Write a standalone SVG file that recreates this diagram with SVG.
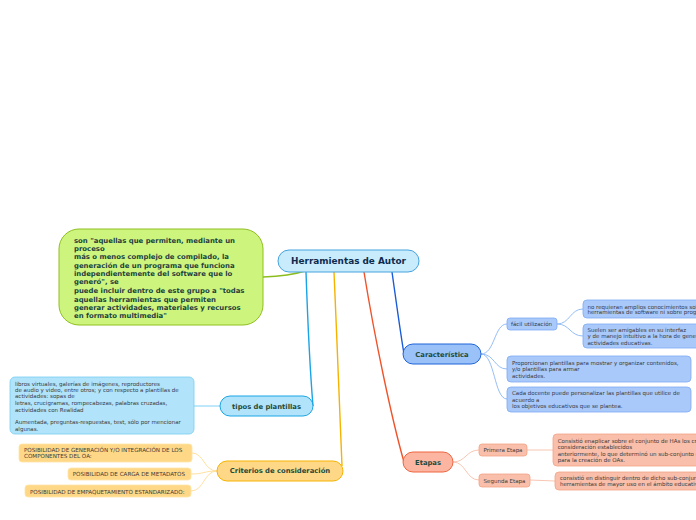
<svg xmlns="http://www.w3.org/2000/svg" width="696" height="520" viewBox="0 0 696 520">
<style>
text{font-family:"DejaVu Sans","Verdana",sans-serif;}
.lbl{font-weight:bold;fill:#1d4a3c;font-size:6.8px;text-anchor:middle;}
.body{fill:#3a3a3a;font-size:5.5px;}
.cap{fill:#3a3a3a;font-size:5.6px;}
.green{font-weight:bold;fill:#1d3f3f;font-size:6.9px;}
.conn{fill:none;}
</style>
<rect width="696" height="520" fill="#ffffff"/>
<g id="connectors" class="conn">
  <path d="M305,271 Q290,276 263,277" stroke="#8cbd1e" stroke-width="1.4"/>
  <path d="M306,272 C308,330 310,370 313,406" stroke="#1aa3e6" stroke-width="1.4"/>
  <path d="M334,272 C337,340 340,420 342,466" stroke="#f5b301" stroke-width="1.4"/>
  <path d="M364,272 C375,340 392,420 404,462" stroke="#f0532a" stroke-width="1.4"/>
  <path d="M392,272 C396,300 400,330 404,354" stroke="#1a5bd8" stroke-width="1.4"/>
  <g stroke="#95bdf6" stroke-width="1">
    <path d="M481,354 C495,354 494,324 507,324"/>
    <path d="M481,354 C495,354 494,369 507,369"/>
    <path d="M481,354 C495,354 494,399 507,399"/>
    <path d="M557,324 C570,324 570,309 583,309"/>
    <path d="M557,324 C570,324 570,336 583,336"/>
  </g>
  <g stroke="#f8c6b4" stroke-width="1">
    <path d="M453,462 C466,462 466,450 479,450"/>
    <path d="M453,462 C466,462 466,480 479,480"/>
    <path d="M527,450 L553,450"/>
    <path d="M530,480 L555,481"/>
  </g>
  <path d="M194,406 L220,406" stroke="#7fd0f5" stroke-width="1"/>
  <g stroke="#ffe0a0" stroke-width="1">
    <path d="M217,471 C204,471 204,453 192,453"/>
    <path d="M217,471 C204,471 204,474 191,474"/>
    <path d="M217,471 C204,471 204,491 191,491"/>
  </g>
</g>
<g id="central">
  <rect x="278" y="250" width="141" height="22" rx="11" fill="#c9ecfc" stroke="#45a3e0" stroke-width="1"/>
  <text x="348.5" y="264.2" text-anchor="middle" font-weight="bold" font-size="8.9" fill="#0d2b4f">Herramientas de Autor</text>
</g>
<g id="definicion">
  <rect x="59" y="229" width="204" height="96" rx="20" fill="#cdf57e" stroke="#8fbf1f" stroke-width="1"/>
  <text class="green" x="74" y="242.5">son "aquellas que permiten, mediante un</text>
  <text class="green" x="74" y="251">proceso</text>
  <text class="green" x="74" y="259">más o menos complejo de compilado, la</text>
  <text class="green" x="74" y="267.5">generación de un programa que funciona</text>
  <text class="green" x="74" y="276">independientemente del software que lo</text>
  <text class="green" x="74" y="284">generó",  se</text>
  <text class="green" x="74" y="293">puede incluir dentro de este grupo a "todas</text>
  <text class="green" x="74" y="301.5">aquellas herramientas que permiten</text>
  <text class="green" x="74" y="310">generar actividades, materiales y recursos</text>
  <text class="green" x="74" y="318">en formato multimedia"</text>
</g>
<g id="caracteristica">
  <rect x="403" y="344" width="78" height="20" rx="10" fill="#9ac2f8" stroke="#1f63d8" stroke-width="1"/>
  <text class="lbl" x="442" y="356.5">Característica</text>
</g>
<g id="facil">
  <rect x="507" y="318" width="50" height="12" rx="3" fill="#a9c9fb" stroke="#7ea9f2" stroke-width="0.8"/>
  <text class="body" x="511" y="326">fácil utilización</text>
</g>
<g id="no-requieran">
  <rect x="583" y="300" width="130" height="18" rx="4" fill="#a9c9fb" stroke="#7ea9f2" stroke-width="0.8"/>
  <text class="body" x="587.5" y="308.5">no requieran amplios conocimientos sobre</text>
  <text class="body" x="587.5" y="314.2">herramientas de software ni sobre programación</text>
</g>
<g id="suelen">
  <rect x="583" y="324" width="130" height="24" rx="4" fill="#a9c9fb" stroke="#7ea9f2" stroke-width="0.8"/>
  <text class="body" x="587.5" y="331.5">Suelen ser amigables en su interfaz</text>
  <text class="body" x="587.5" y="338">y de manejo intuitivo a la hora de generar</text>
  <text class="body" x="587.5" y="345">actividades educativas.</text>
</g>
<g id="proporcionan">
  <rect x="507" y="356" width="184" height="26" rx="4" fill="#a9c9fb" stroke="#7ea9f2" stroke-width="0.8"/>
  <text class="body" x="512" y="365">Proporcionan plantillas para mostrar y organizar contenidos,</text>
  <text class="body" x="512" y="371.2">y/o plantillas para armar</text>
  <text class="body" x="512" y="377.6">actividades.</text>
</g>
<g id="cada-docente">
  <rect x="507" y="387" width="184" height="25" rx="4" fill="#a9c9fb" stroke="#7ea9f2" stroke-width="0.8"/>
  <text class="body" x="512" y="395.2">Cada docente puede personalizar las plantillas que utilice de</text>
  <text class="body" x="512" y="401.8">acuerdo a</text>
  <text class="body" x="512" y="408">los objetivos educativos que se plantea.</text>
</g>
<g id="etapas">
  <rect x="403" y="452" width="50" height="20" rx="10" fill="#fbb5a0" stroke="#ee6540" stroke-width="1"/>
  <text class="lbl" x="428" y="465">Etapas</text>
</g>
<g id="primera-etapa">
  <rect x="479" y="444" width="48" height="12" rx="3" fill="#f9bfaa" stroke="#f4a385" stroke-width="0.8"/>
  <text class="body" x="503" y="452" text-anchor="middle">Primera Etapa</text>
</g>
<g id="segunda-etapa">
  <rect x="479" y="474" width="51" height="13" rx="3" fill="#f9bfaa" stroke="#f4a385" stroke-width="0.8"/>
  <text class="body" x="504.5" y="482.8" text-anchor="middle">Segunda Etapa</text>
</g>
<g id="consistio-1">
  <rect x="553" y="434" width="160" height="32" rx="4" fill="#f9bfaa" stroke="#f4a385" stroke-width="0.8"/>
  <text class="body" x="557.7" y="442.5">Consistió enaplicar sobre el conjunto de HAs los criterios de</text>
  <text class="body" x="557.7" y="448.5">consideración establecidos</text>
  <text class="body" x="557.7" y="455.8">anteriormente, lo que determinó un sub-conjunto de HAs</text>
  <text class="body" x="557.7" y="461.8">para la creación de OAs.</text>
</g>
<g id="consistio-2">
  <rect x="555" y="472" width="160" height="18" rx="4" fill="#f9bfaa" stroke="#f4a385" stroke-width="0.8"/>
  <text class="body" x="560" y="479.5">consistió en distinguir dentro de dicho sub-conjunto las</text>
  <text class="body" x="560" y="486">herramientas de mayor uso en el ámbito educativo.</text>
</g>
<g id="tipos-plantillas">
  <rect x="220" y="396" width="93" height="20" rx="10" fill="#b1e3fa" stroke="#1ba5e5" stroke-width="1"/>
  <text class="lbl" x="266.5" y="409">tipos de plantillas</text>
</g>
<g id="tipos-texto">
  <rect x="10" y="377" width="184" height="57" rx="5" fill="#b1e3fa" stroke="#76cdf2" stroke-width="0.8"/>
  <text class="body" x="15" y="385.8">libros virtuales, galerías de imágenes, reproductores</text>
  <text class="body" x="15" y="391.8">de audio y video, entre otros; y con respecto a plantillas de</text>
  <text class="body" x="15" y="397.8">actividades: sopas de</text>
  <text class="body" x="15" y="405">letras, crucigramas, rompecabezas, palabras cruzadas,</text>
  <text class="body" x="15" y="411.5">actividades con Realidad</text>
  <text class="body" x="15" y="424.1">Aumentada, preguntas-respuestas, test, sólo por mencionar</text>
  <text class="body" x="15" y="430.5">algunas.</text>
</g>
<g id="criterios">
  <rect x="217" y="461" width="126" height="20" rx="10" fill="#ffd887" stroke="#f5b300" stroke-width="1"/>
  <text class="lbl" x="280" y="473.2">Criterios de consideración</text>
</g>
<g id="generacion">
  <rect x="19" y="444" width="173" height="18" rx="3" fill="#ffd887" stroke="#ffe4a6" stroke-width="0.8"/>
  <text class="cap" x="24" y="451.8">POSIBILIDAD DE GENERACIÓN Y/O INTEGRACIÓN DE LOS</text>
  <text class="cap" x="24" y="457.8">COMPONENTES DEL OA:</text>
</g>
<g id="metadatos">
  <rect x="68" y="468" width="123" height="12" rx="3" fill="#ffd887" stroke="#ffe4a6" stroke-width="0.8"/>
  <text class="cap" x="72.7" y="475.6">POSIBILIDAD DE CARGA DE METADATOS</text>
</g>
<g id="empaquetamiento">
  <rect x="25" y="485" width="166" height="12" rx="3" fill="#ffd887" stroke="#ffe4a6" stroke-width="0.8"/>
  <text class="cap" x="30" y="493.5">POSIBILIDAD DE EMPAQUETAMIENTO ESTANDARIZADO:</text>
</g>
</svg>
